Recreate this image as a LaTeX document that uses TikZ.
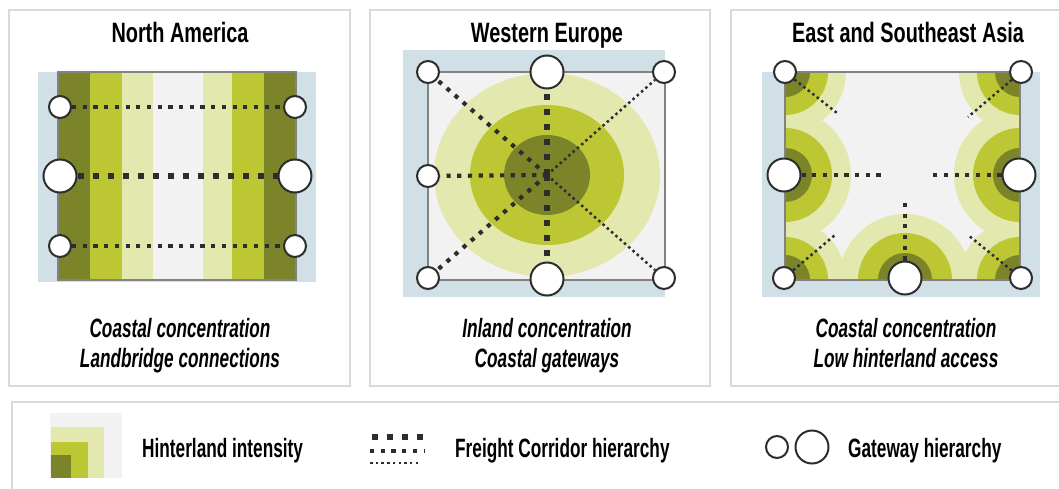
\documentclass[tikz,border=0pt]{standalone}
\usepackage{fontspec}
\setmainfont{Liberation Sans}
\newfontfamily\ttlfont[FakeStretch=0.71]{Liberation Sans}
\newfontfamily\lgdfont[FakeStretch=0.65]{Liberation Sans}
\definecolor{olivedk}{RGB}{123,132,40}
\definecolor{olivemd}{RGB}{189,199,52}
\definecolor{olivelt}{RGB}{227,233,174}
\definecolor{mapgray}{RGB}{242,242,242}
\definecolor{seablue}{RGB}{209,224,230}
\definecolor{dotc}{RGB}{45,45,45}
\definecolor{framec}{RGB}{218,218,218}
\definecolor{mapedge}{RGB}{130,130,130}
\begin{document}
\begin{tikzpicture}[x=1pt,y=-1pt,
  panel/.style={draw=framec,line width=1.5pt},
  mapbox/.style={draw=mapedge,line width=1.6pt},
  gw/.style={circle,draw=dotc,fill=white,line width=2pt,inner sep=0pt,minimum size=22pt},
  gwbig/.style={gw,minimum size=33pt},
  corrL/.style={draw=dotc,line width=6pt,dash pattern=on 6pt off 9pt},
  corrM/.style={draw=dotc,line width=4.2pt,dash pattern=on 4.2pt off 6.5pt},
  corrS/.style={draw=dotc,line width=2.5pt,dash pattern=on 2.5pt off 3.2pt},
  ttl/.style={inner sep=0pt,anchor=base,font=\ttlfont\bfseries\fontsize{28pt}{30pt}\selectfont},
  captxt/.style={inner sep=0pt,anchor=base,font=\lgdfont\bfseries\itshape\fontsize{26.5pt}{28pt}\selectfont},
  lgd/.style={inner sep=0pt,anchor=base west,font=\lgdfont\bfseries\fontsize{26.5pt}{28pt}\selectfont}
]
\useasboundingbox (0,0) rectangle (1059,489);
\fill[white] (0,0) rectangle (1059,489);

% ---------- frames ----------
\draw[panel] (9,10) rectangle (350,386);
\draw[panel] (370,10) rectangle (710,386);
\draw[panel] (731,10) rectangle (1066,386);
\draw[panel] (12,402) rectangle (1066,495);

% ---------- North America ----------
\node[ttl] (t1) at (180,43) {North America};
\fill[seablue] (38,72) rectangle (316,282);
\fill[olivedk] (58,72) rectangle (90,280);
\fill[olivemd] (90,72) rectangle (122,280);
\fill[olivelt] (122,72) rectangle (153,280);
\fill[mapgray] (153,72) rectangle (203,280);
\fill[olivelt] (203,72) rectangle (232,280);
\fill[olivemd] (232,72) rectangle (264,280);
\fill[olivedk] (264,72) rectangle (296,280);
\draw[mapbox] (58,72) rectangle (296,280);
\node[gw] (na1) at (60,107) {};
\node[gw] (nb1) at (295,107) {};
\node[gwbig] (na2) at (60,176) {};
\node[gwbig] (nb2) at (295,176) {};
\node[gw] (na3) at (60,246) {};
\node[gw] (nb3) at (295,246) {};
\draw[corrM] (na1) -- (nb1);
\draw[corrL] (na2) -- (nb2);
\draw[corrM] (na3) -- (nb3);
\node[captxt] (c1a) at (180,337) {Coastal concentration};
\node[captxt] (c1b) at (180,367) {Landbridge connections};

% ---------- Western Europe ----------
\node[ttl] (t2) at (547,43) {Western Europe};
\fill[seablue] (403,50) rectangle (665,297);
\fill[mapgray] (428,72) rectangle (665,280);
\fill[olivelt] (547,175) ellipse [x radius=113, y radius=102];
\fill[olivemd] (547,175) ellipse [x radius=77, y radius=70];
\fill[olivedk] (547,175) ellipse [x radius=43, y radius=40];
\draw[mapbox] (428,72) rectangle (665,280);
\coordinate (wc) at (547,175);
\node[gw] (wtl) at (428,72) {};
\node[gwbig] (wtc) at (547,72) {};
\node[gw] (wtr) at (664,72) {};
\node[gw] (wml) at (428,176) {};
\node[gw] (wbl) at (428,278) {};
\node[gwbig] (wbc) at (547,279) {};
\node[gw] (wbr) at (664,278) {};
\draw[corrS] (wc) -- (wtr);
\draw[corrS] (wc) -- (wbr);
\draw[corrM] (wc) -- (wtl);
\draw[corrM] (wc) -- (wbl);
\draw[corrM] (wc) -- (wml);
\draw[corrL] (wc) -- (wtc);
\draw[corrL] (wc) -- (wbc);
\node[captxt] (c2a) at (547,337) {Inland concentration};
\node[captxt] (c2b) at (547,367) {Coastal gateways};

% ---------- East and Southeast Asia ----------
\node[ttl] (t3) at (908,43) {East and Southeast Asia};
\fill[seablue] (762,72) rectangle (1040,297);
\fill[mapgray] (785,72) rectangle (1020,280);
\begin{scope}
  \clip (785,72) rectangle (1020,280);
  \fill[olivelt] (785,72) circle[radius=61] (1020,72) circle[radius=61]
     (785,280) circle[radius=61] (1020,280) circle[radius=61]
     (785,175) circle[radius=66] (1020,175) circle[radius=66] (905,280) circle[radius=66];
  \fill[olivemd] (785,72) circle[radius=43] (1020,72) circle[radius=43]
     (785,280) circle[radius=43] (1020,280) circle[radius=43]
     (785,175) circle[radius=47] (1020,175) circle[radius=47] (905,280) circle[radius=47];
  \fill[olivedk] (785,72) circle[radius=25] (1020,72) circle[radius=25]
     (785,280) circle[radius=25] (1020,280) circle[radius=25]
     (785,175) circle[radius=27] (1020,175) circle[radius=27] (905,280) circle[radius=27];
\end{scope}
\draw[mapbox] (785,72) rectangle (1020,280);
\coordinate (etlx) at (837,113);
\coordinate (etrx) at (968,117);
\coordinate (emlx) at (884,175);
\coordinate (emrx) at (930,175);
\coordinate (ebcx) at (905,198);
\coordinate (eblx) at (835,235);
\coordinate (ebrx) at (968,235);
\node[gw] (etl) at (785,72) {};
\node[gw] (etr) at (1021,72) {};
\node[gwbig] (eml) at (784,175) {};
\node[gwbig] (emr) at (1019,175) {};
\node[gw] (ebl) at (784,278) {};
\node[gwbig] (ebc) at (905,278) {};
\node[gw] (ebr) at (1021,278) {};
\draw[corrS] (etl) -- (etlx);
\draw[corrS] (etr) -- (etrx);
\draw[corrS] (ebl) -- (eblx);
\draw[corrS] (ebr) -- (ebrx);
\draw[corrM] (eml) -- (emlx);
\draw[corrM] (emr) -- (emrx);
\draw[corrM] (ebc) -- (ebcx);
\node[captxt] (c3a) at (906,337) {Coastal concentration};
\node[captxt] (c3b) at (906,367) {Low hinterland access};

% ---------- Legend ----------
\fill[mapgray] (50,413) rectangle (122,478);
\fill[olivelt] (51,427) rectangle (104,478);
\fill[olivemd] (51,442) rectangle (88,478);
\fill[olivedk] (51,455) rectangle (71,478);
\node[lgd] (l1) at (142,457) {Hinterland intensity};
\coordinate (fl1a) at (371.5,437);
\coordinate (fl1b) at (425,437);
\coordinate (fl2a) at (370,451);
\coordinate (fl2b) at (424,451);
\coordinate (fl3a) at (370,463);
\coordinate (fl3b) at (421,463);
\draw[corrL] (fl1a) -- (fl1b);
\draw[corrM] (fl2a) -- (fl2b);
\draw[corrS] (fl3a) -- (fl3b);
\node[lgd] (l2) at (455,457) {Freight Corridor hierarchy};
\node[gw] (lgs) at (777,447) {};
\node[gwbig] (lgb) at (812,447) {};
\node[lgd] (l3) at (848,457) {Gateway hierarchy};
\end{tikzpicture}
\end{document}
